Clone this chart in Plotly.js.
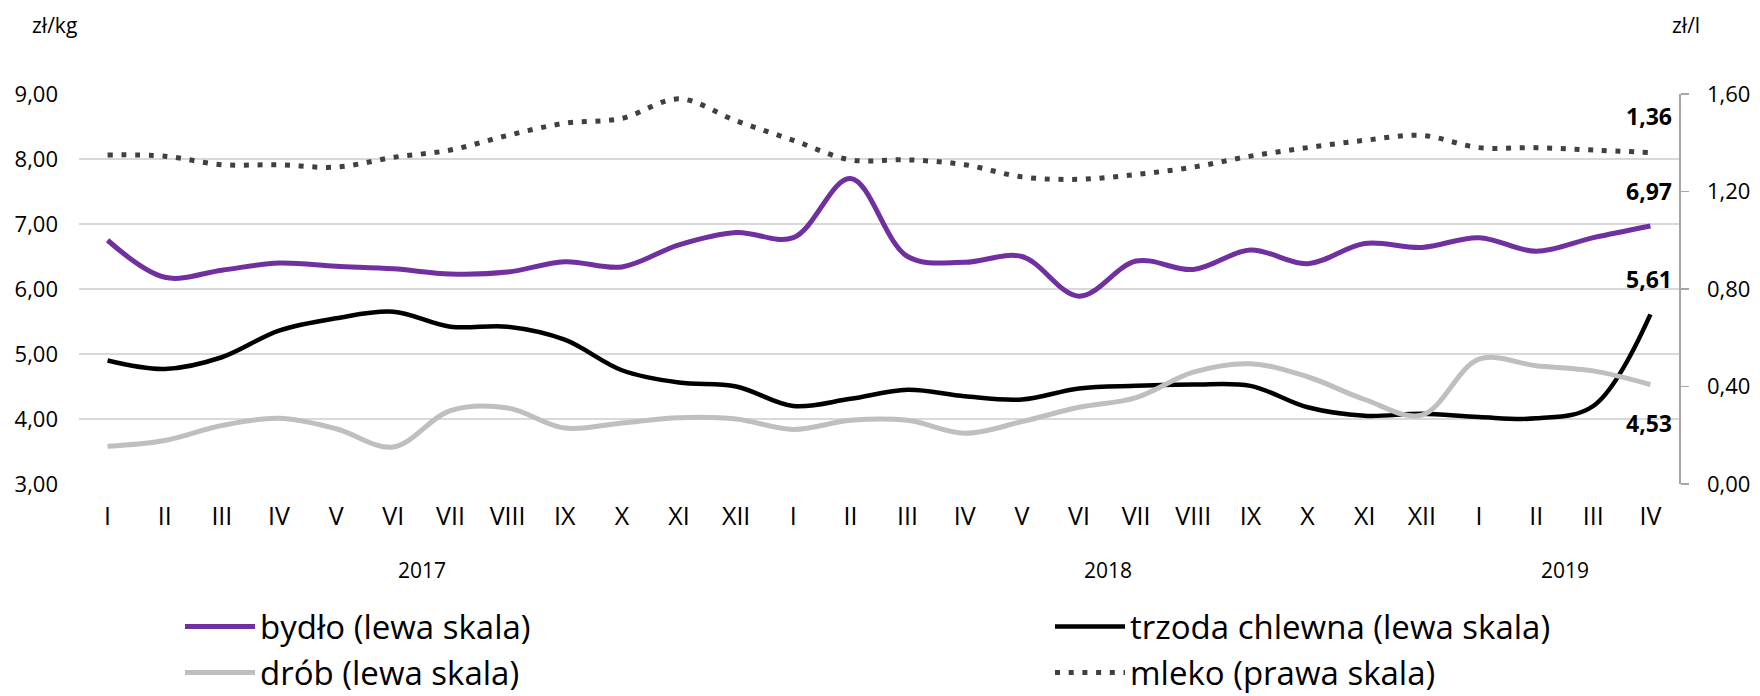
<!DOCTYPE html>
<html>
<head>
<meta charset="utf-8">
<script src="https://cdn.plot.ly/plotly-3.0.1.min.js"></script>
<style>
html,body{margin:0;padding:0;background:#fff;}
#chart{width:1760px;height:696px;}
</style>
</head>
<body>
<div id="chart"></div>
<script>
// ---- data ----
const months = ["I","II","III","IV","V","VI","VII","VIII","IX","X","XI","XII",
                "I","II","III","IV","V","VI","VII","VIII","IX","X","XI","XII",
                "I","II","III","IV"];
const years = ["2017","2018","2019"];
const monthsPerYear = [12, 12, 4];

const bydlo  = [6.75,6.18,6.29,6.40,6.35,6.31,6.23,6.26,6.42,6.34,6.68,6.87,
                6.79,7.70,6.50,6.41,6.50,5.89,6.43,6.30,6.60,6.39,6.70,6.64,
                6.79,6.58,6.79,6.97];
const trzoda = [4.90,4.77,4.95,5.36,5.55,5.65,5.42,5.42,5.22,4.75,4.56,4.50,
                4.20,4.31,4.45,4.35,4.30,4.47,4.51,4.53,4.51,4.18,4.05,4.08,
                4.03,4.01,4.20,5.61];
const drob   = [3.58,3.67,3.90,4.01,3.85,3.57,4.13,4.17,3.86,3.94,4.02,4.00,
                3.84,3.98,3.98,3.78,3.96,4.18,4.33,4.72,4.85,4.65,4.30,4.06,
                4.92,4.82,4.74,4.53];
const mleko  = [1.35,1.345,1.31,1.31,1.30,1.34,1.37,1.43,1.48,1.50,1.58,1.49,
                1.41,1.33,1.33,1.31,1.26,1.25,1.27,1.30,1.345,1.38,1.41,1.43,
                1.38,1.38,1.37,1.36];

const leftTicks  = [3,4,5,6,7,8,9];
const rightTicks = [0,0.4,0.8,1.2,1.6];

// ---- build ----
const idx = months.map((m,i)=>i);
const FONT = "Open Sans";
const fmt = v => v.toFixed(2).replace(".", ",");

const traces = [
  {x: idx, y: bydlo, name: "bydło (lewa skala)", type: "scatter", mode: "lines", legend: "legend",
   line: {color: "#7030A0", width: 5, shape: "spline", smoothing: 1}},
  {x: idx, y: trzoda, name: "trzoda chlewna (lewa skala)", type: "scatter", mode: "lines", legend: "legend2",
   line: {color: "#000000", width: 4.5, shape: "spline", smoothing: 1}},
  {x: idx, y: drob, name: "drób (lewa skala)", type: "scatter", mode: "lines", legend: "legend",
   line: {color: "#BFBFBF", width: 5, shape: "spline", smoothing: 1}},
  {x: idx, y: mleko, name: "mleko (prawa skala)", type: "scatter", mode: "lines", yaxis: "y2", legend: "legend2",
   line: {color: "#404040", width: 5, dash: "5px,8.7px", shape: "spline", smoothing: 1}}
];

// year labels centred under their months
const annotations = [];
let start = 0;
years.forEach((yr, k) => {
  const n = monthsPerYear[k];
  annotations.push({x: start + (n-1)/2, xref: "x", y: -0.22, yref: "paper",
    text: yr, showarrow: false, xanchor: "center", yanchor: "middle",
    font: {family: FONT, size: 21, color: "#000"}});
  start += n;
});

const last = months.length - 1;
const lbl = (series, yref, shift) => ({
  x: last, y: series[last], xref: "x", yref: yref, text: "<b>" + fmt(series[last]) + "</b>",
  showarrow: false, xanchor: "right", yanchor: "middle", xshift: 24, yshift: shift,
  font: {family: FONT, size: 23, color: "#000"}
});
annotations.push(lbl(mleko, "y2", 37));
annotations.push(lbl(bydlo, "y", 35));
annotations.push(lbl(trzoda, "y", 35));
annotations.push(lbl(drob, "y", -38));

annotations.push({x: -0.0156, xref: "paper", y: 1.176, yref: "paper", text: "zł/kg",
  showarrow: false, xanchor: "center", yanchor: "middle", font: {family: FONT, size: 21, color: "#000"}});
annotations.push({x: 1.0044, xref: "paper", y: 1.176, yref: "paper", text: "zł/l",
  showarrow: false, xanchor: "center", yanchor: "middle", font: {family: FONT, size: 21, color: "#000"}});

const legendBase = {orientation: "v", xref: "paper", yref: "container", xanchor: "left",
  y: 0.140, yanchor: "top", itemwidth: 70, traceorder: "normal", bgcolor: "rgba(0,0,0,0)",
  font: {family: FONT, size: 33, color: "#000"}};

const layout = {
  width: 1760, height: 696,
  margin: {l: 79, r: 81, t: 94, b: 212, pad: 0},
  paper_bgcolor: "#fff", plot_bgcolor: "#fff",
  separators: ", ",
  font: {family: FONT, color: "#000"},
  showlegend: true,
  legend: Object.assign({}, legendBase, {x: (180-79)/1600}),
  legend2: Object.assign({}, legendBase, {x: (1050-79)/1600}),
  xaxis: {type: "linear", range: [-0.5, last + 0.5], tickmode: "array", tickvals: idx, ticktext: months,
          showgrid: false, zeroline: false, showline: false, ticks: "", ticklabelstandoff: 15,
          tickfont: {family: FONT, size: 25, color: "#000"}, fixedrange: true},
  yaxis: {range: [3, 9], tickmode: "array", tickvals: leftTicks, tickformat: ".2f",
          showgrid: true, gridcolor: "#D9D9D9", gridwidth: 1.5, zeroline: false, showline: false,
          ticks: "", ticklabelstandoff: 20, tickfont: {family: FONT, size: 22, color: "#000"}},
  yaxis2: {range: [0, 1.6], overlaying: "y", side: "right", tickmode: "array", tickvals: rightTicks,
          tickformat: ".2f", showgrid: false, zeroline: false, showline: true, linecolor: "#A6A6A6",
          linewidth: 1.5, ticks: "outside", ticklen: 8, tickcolor: "#A6A6A6", tickwidth: 1.5,
          ticklabelstandoff: 14, tickfont: {family: FONT, size: 22, color: "#000"}},
  annotations: annotations
};

Plotly.newPlot("chart", traces, layout, {staticPlot: true, displayModeBar: false});
</script>
</body>
</html>
